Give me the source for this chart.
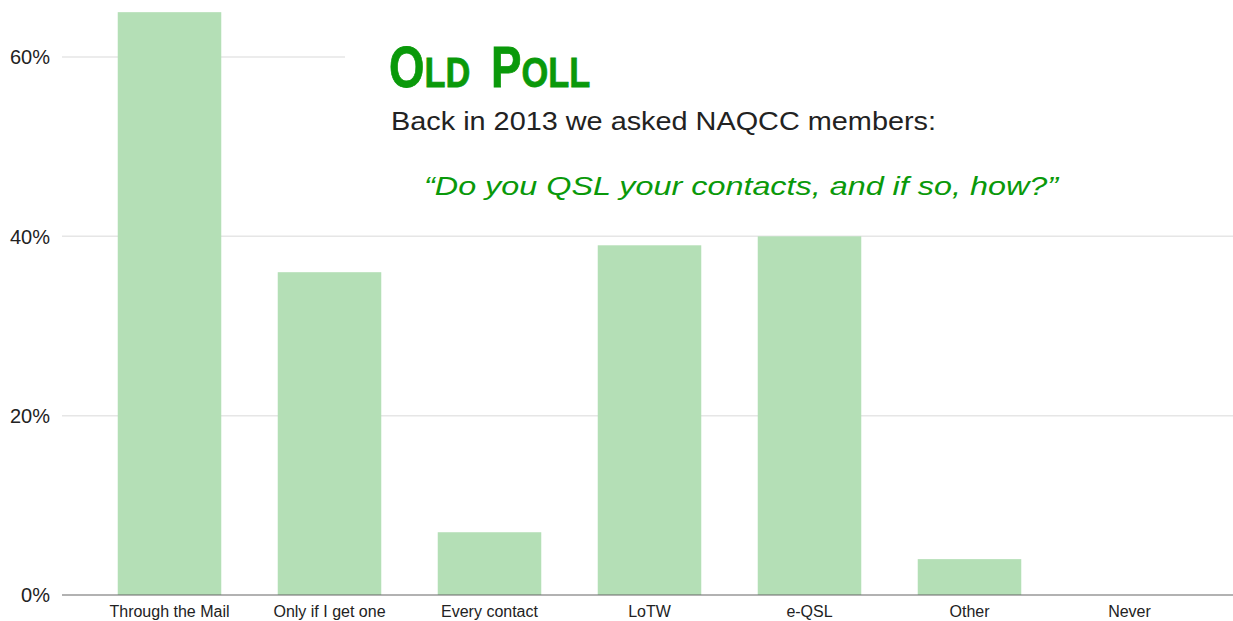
<!DOCTYPE html>
<html>
<head>
<meta charset="utf-8">
<script src="https://cdn.jsdelivr.net/npm/d3@7"></script>
<style>
  body { margin: 0; background: #fff; }
  svg { display: block; font-family: 'Liberation Sans', Arial, sans-serif; }
</style>
</head>
<body>
<div id="chart"></div>
<script>
const categories = ['Through the Mail', 'Only if I get one', 'Every contact', 'LoTW', 'e-QSL', 'Other', 'Never']
const percents = [65, 36, 7, 39, 40, 4, 0]
const yTicks = [0, 20, 40, 60]

const width = 1233
const height = 621

const svg = d3
  .select('#chart')
  .append('svg')
  .attr('width', width)
  .attr('height', height)

const xScale = d3
  .scaleBand()
  .domain(categories)
  .range([89.5, 1209.5])
  .paddingInner(0.353)
  .paddingOuter(0.1765)

const yScale = d3
  .scaleLinear()
  .domain([0, 60])
  .range([595, 57])

// gridlines
svg
  .selectAll('.grid')
  .data(yTicks.filter(d => d > 0))
  .enter()
  .append('line')
  .attr('class', 'grid')
  .attr('x1', 62)
  .attr('x2', width)
  .attr('y1', d => yScale(d))
  .attr('y2', d => yScale(d))
  .attr('stroke', '#e6e6e6')
  .attr('stroke-width', 1.5)

svg
  .selectAll('.tick-label')
  .data(yTicks)
  .enter()
  .append('text')
  .attr('class', 'tick-label')
  .attr('x', 50)
  .attr('y', d => yScale(d))
  .attr('dy', '0.36em')
  .attr('text-anchor', 'end')
  .attr('font-size', 20)
  .attr('fill', '#222')
  .text(d => d + '%')

svg
  .selectAll('.bar')
  .data(percents)
  .enter()
  .append('rect')
  .attr('class', 'bar')
  .attr('x', (d, i) => xScale(categories[i]))
  .attr('width', xScale.bandwidth())
  .attr('y', d => yScale(d))
  .attr('height', d => yScale(0) - yScale(d))
  .attr('fill', '#b4dfb6')

// baseline axis
svg
  .append('line')
  .attr('x1', 62)
  .attr('x2', width)
  .attr('y1', yScale(0))
  .attr('y2', yScale(0))
  .attr('stroke', '#666')
  .attr('stroke-width', 1.2)

svg
  .selectAll('.cat-label')
  .data(categories)
  .enter()
  .append('text')
  .attr('class', 'cat-label')
  .attr('x', d => xScale(d) + xScale.bandwidth() / 2)
  .attr('y', 617)
  .attr('text-anchor', 'middle')
  .attr('font-size', 16)
  .attr('fill', '#222')
  .text(d => d)

// white panel pasted over the chart for the title
svg
  .append('rect')
  .attr('x', 345)
  .attr('y', 0)
  .attr('width', width - 345)
  .attr('height', 220)
  .attr('fill', '#fff')

// small caps title, squeezed a little to look condensed
const title = svg
  .append('text')
  .attr('transform', 'translate(389,87) scale(0.8,1)')
  .attr('fill', '#0a990a')
  .attr('stroke', '#0a990a')
  .attr('stroke-width', 0.8)
  .attr('font-weight', 700)
title.append('tspan').attr('font-size', 57).text('O')
title.append('tspan').attr('font-size', 43).text('LD')
title.append('tspan').attr('font-size', 57).attr('dx', 26).text('P')
title.append('tspan').attr('font-size', 43).text('OLL')

svg
  .append('text')
  .attr('x', 391)
  .attr('y', 130)
  .attr('font-size', 26)
  .attr('fill', '#222')
  .attr('textLength', 545)
  .attr('lengthAdjust', 'spacingAndGlyphs')
  .text('Back in 2013 we asked NAQCC members:')

svg
  .append('text')
  .attr('x', 424)
  .attr('y', 195)
  .attr('font-size', 26)
  .attr('font-style', 'italic')
  .attr('fill', '#0a990a')
  .attr('textLength', 634)
  .attr('lengthAdjust', 'spacingAndGlyphs')
  .text('\u201cDo you QSL your contacts, and if so, how?\u201d')
</script>
</body>
</html>
